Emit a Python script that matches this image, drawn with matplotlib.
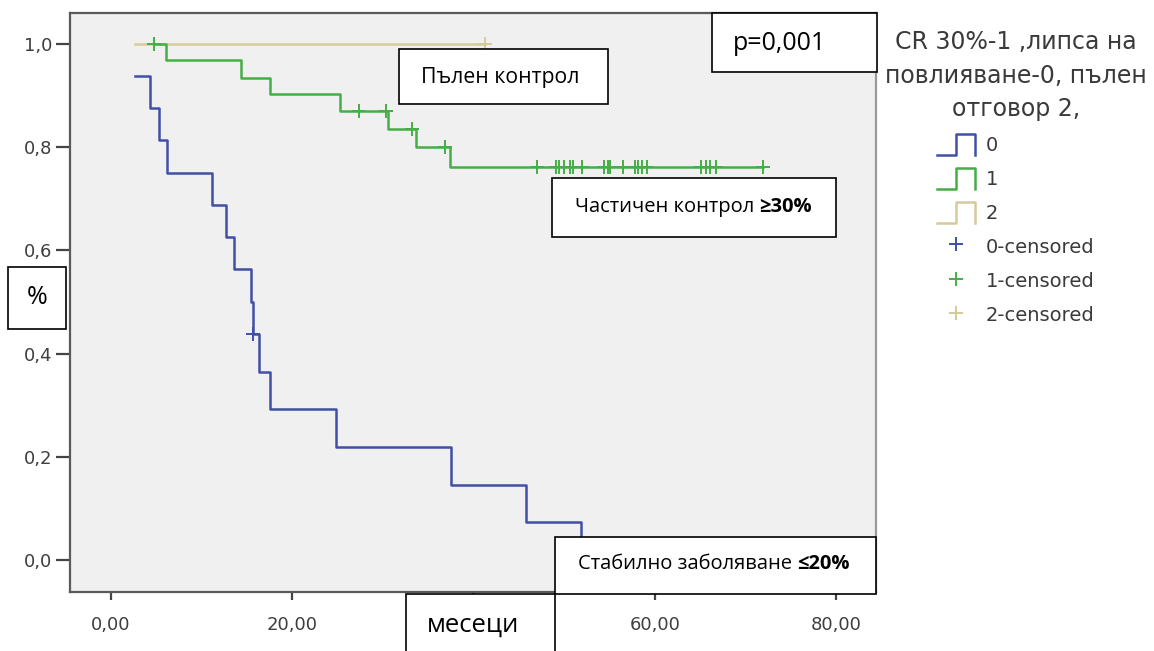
import matplotlib
matplotlib.use("Agg")
import matplotlib.pyplot as plt
from matplotlib.lines import Line2D
from matplotlib.patches import Rectangle
from matplotlib.text import Annotation
from matplotlib.legend_handler import HandlerBase

# ---------------- data ----------------
# group 0: "липса на повлияване" (no response)
blue_times = [2.7, 4.3, 5.3, 6.2, 11.2, 12.7, 13.6, 15.5, 15.7, 16.3, 17.6, 24.8, 37.5, 45.8, 51.9]
blue_surv = [0.938, 0.875, 0.813, 0.750, 0.688, 0.625, 0.563, 0.500, 0.438, 0.365, 0.292, 0.219, 0.146, 0.073, 0.0]
blue_cens_t = [15.7]
blue_cens_s = [0.438]

# group 1: "CR 30%" (partial control)
green_times = [4.8, 6.1, 14.4, 17.6, 25.3, 30.6, 33.7, 37.4, 71.9]
green_surv = [1.0, 0.968, 0.935, 0.903, 0.871, 0.836, 0.800, 0.762, 0.762]
green_cens_t = [4.8, 27.4, 30.4, 33.2, 36.9,
                47.0, 49.1, 49.4, 50.0, 50.6, 51.0, 52.0, 54.4, 54.8, 55.1,
                56.5, 57.8, 58.2, 58.6, 59.1, 65.1, 65.6, 66.1, 66.8, 71.9]
green_cens_s = [1.0, 0.871, 0.871, 0.836, 0.800] + [0.762] * 20

# group 2: "пълен отговор" (complete response)
tan_times = [2.7, 41.3]
tan_surv = [1.0, 1.0]
tan_cens_t = [41.3]
tan_cens_s = [1.0]

x_ticks = [0, 20, 40, 60, 80]
x_ticklabels = ["0,00", "20,00", "40,00", "60,00", "80,00"]
y_ticks = [0.0, 0.2, 0.4, 0.6, 0.8, 1.0]
y_ticklabels = ["0,0", "0,2", "0,4", "0,6", "0,8", "1,0"]

legend_title = "CR 30%-1 ,липса на\nповлияване-0, пълен\nотговор 2,"
legend_labels = ["0", "1", "2", "0-censored", "1-censored", "2-censored"]

BLUE = "#4150A6"
GREEN = "#45AE45"
TAN = "#D4CB9C"

# ---------------- figure ----------------
W, H = 1154, 651
fig = plt.figure(figsize=(W / 100, H / 100), dpi=100)
fig.patch.set_facecolor("white")


def px_rect(x0, y0, x1, y1):
    return [x0 / W, 1 - y1 / H, (x1 - x0) / W, (y1 - y0) / H]


ax = fig.add_axes(px_rect(70, 13, 876, 592))
ax.set_facecolor("#F0F0F0")
ax.set_xlim(-4.5, 84.4)
ax.set_ylim(-0.062, 1.060)

lw = 1.8
(h_blue,) = ax.step(blue_times, blue_surv, where="post", color=BLUE, lw=lw)
(h_tan,) = ax.step(tan_times, tan_surv, where="post", color=TAN, lw=lw)
(h_green,) = ax.step(green_times, green_surv, where="post", color=GREEN, lw=lw)

mk = dict(ls="none", marker="+", ms=10, mew=1.4)
(c_blue,) = ax.plot(blue_cens_t, blue_cens_s, color=BLUE, **mk)
(c_tan,) = ax.plot(tan_cens_t, tan_cens_s, color=TAN, **mk)
(c_green,) = ax.plot(green_cens_t, green_cens_s, color=GREEN, **mk)

ax.set_xticks(x_ticks)
ax.set_xticklabels(x_ticklabels)
ax.set_yticks(y_ticks)
ax.set_yticklabels(y_ticklabels)
ax.tick_params(direction="out", width=1.6, color="#444444",
               labelsize=13, labelcolor="#3e3e3e")
ax.tick_params(axis="x", length=6, pad=11.5)
ax.tick_params(axis="y", length=10, pad=3)
for lab in ax.get_xticklabels() + ax.get_yticklabels():
    lab.set_family("DejaVu Sans")
# the "40,00" label lies fully under the "месеци" box in the reference
for val, lab in zip(x_ticks, ax.get_xticklabels()):
    if val == 40:
        lab.set_visible(False)
for s in ax.spines.values():
    s.set_color("#5a5a5a")
    s.set_linewidth(1.6)
ax.spines["right"].set_color("#9a9a9a")


# ---------------- legend ----------------
class StepHandler(HandlerBase):
    def create_artists(self, legend, orig_handle, xdescent, ydescent,
                       width, height, fontsize, trans):
        x0, y0 = -xdescent, -ydescent
        xs = [x0, x0 + width * 0.5, x0 + width * 0.5, x0 + width, x0 + width]
        ys = [y0, y0, y0 + height, y0 + height, y0]
        ln = Line2D(xs, ys, color=orig_handle.get_color(),
                    lw=orig_handle.get_linewidth(), transform=trans)
        return [ln]


handles = [h_blue, h_green, h_tan, c_blue, c_green, c_tan]
leg = fig.legend(handles, legend_labels, title=legend_title,
                 handler_map={h_blue: StepHandler(), h_green: StepHandler(), h_tan: StepHandler()},
                 loc="upper center", bbox_to_anchor=(1016 / W, 1 - 30 / H),
                 frameon=False, fontsize=14, title_fontsize=17,
                 handlelength=1.95, handleheight=1.3, handletextpad=0.55,
                 labelspacing=0.66, borderpad=0, borderaxespad=0, numpoints=1,
                 labelcolor="#3a3a3a")
leg.get_title().set_color("#3a3a3a")
leg.get_title().set_multialignment("center")
leg.get_title().set_linespacing(1.5)

# ---------------- text boxes (annotations) ----------------
BOXFONT = ["Open Sans", "DejaVu Sans"]


def box(x0, y0, x1, y1):
    r = Rectangle((x0 / W, 1 - y1 / H), (x1 - x0) / W, (y1 - y0) / H,
                  transform=fig.transFigure, facecolor="white",
                  edgecolor="black", lw=1.2, zorder=5)
    fig.add_artist(r)


def txt(x, y, s, size, ha="left", weight="normal"):
    return fig.text(x / W, 1 - y / H, s, fontsize=size, ha=ha, va="center",
                    family=BOXFONT, weight=weight, color="black", zorder=6)


def bold_tail(t, s, size):
    a = Annotation(s, xy=(1, 0), xycoords=t, va="bottom", ha="left",
                   fontsize=size, family=BOXFONT, weight="bold",
                   color="black", annotation_clip=False, zorder=6)
    fig.add_artist(a)
    return a


box(399, 49, 608, 104)
txt(421, 77, "Пълен контрол", 15.3)

box(552, 178, 836, 237)
t_a = txt(575, 207, "Частичен контрол ", 14.5)
bold_tail(t_a, "≥30%", 14.5)

box(712, 13, 877, 72)
txt(733, 44, "p=0,001", 18)

box(555, 537, 876, 594)
t_b = txt(578, 564, "Стабилно заболяване ", 14.5)
bold_tail(t_b, "≤20%", 14.5)

box(406, 594, 555, 660)
txt(427, 625, "месеци", 18.5)

box(8, 267, 66, 329)
txt(37, 297, "%", 18, ha="center")

fig.savefig("out.png", dpi=100)
